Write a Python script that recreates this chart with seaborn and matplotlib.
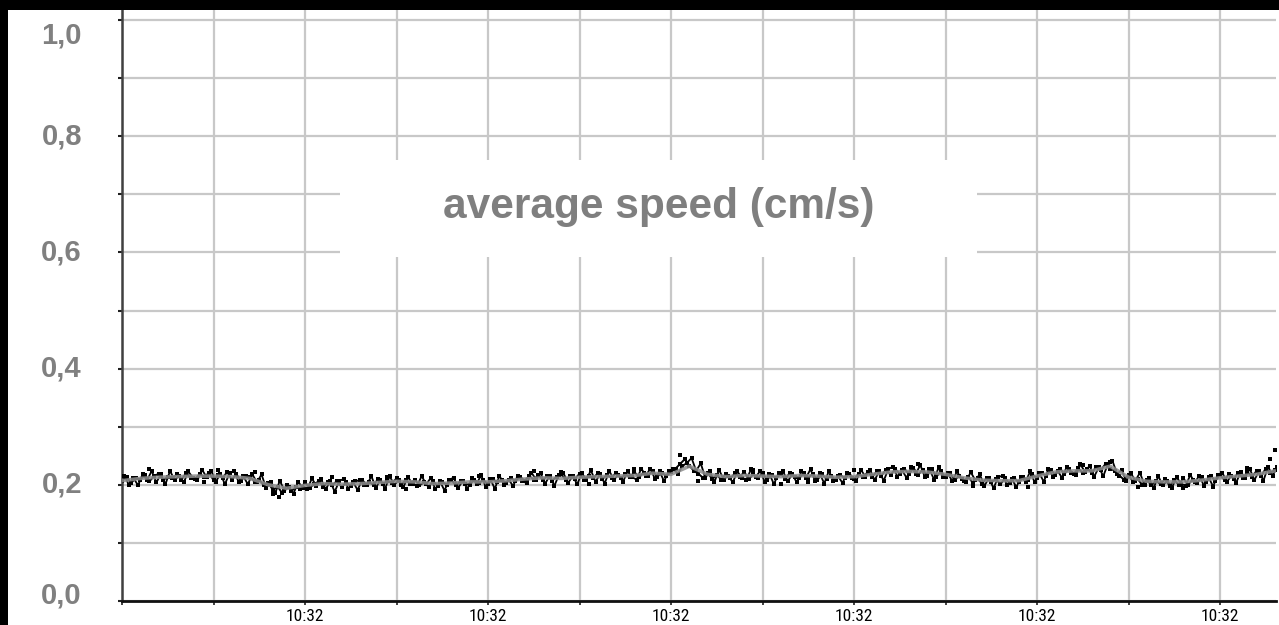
import numpy as np
import pandas as pd
import matplotlib
matplotlib.use("Agg")
import matplotlib.pyplot as plt
import matplotlib.transforms as mtransforms
from matplotlib import font_manager
from matplotlib.patches import Rectangle
import seaborn as sns

# ---------------- data ----------------
# smoothed speed (gray line), one value every 0.2 tick-units from 0 to 12.6
trend_values = [
    0.207, 0.211, 0.213, 0.214, 0.215, 0.215, 0.214, 0.211, 0.200, 0.194,
    0.199, 0.202, 0.201, 0.202, 0.204, 0.206, 0.205, 0.202, 0.203, 0.205,
    0.205, 0.207, 0.210, 0.212, 0.211, 0.213, 0.214, 0.215, 0.216, 0.220,
    0.218, 0.232, 0.218, 0.214, 0.216, 0.215, 0.214, 0.216, 0.215, 0.213,
    0.214, 0.218, 0.222, 0.223, 0.222, 0.218, 0.212, 0.208, 0.207, 0.207,
    0.215, 0.222, 0.224, 0.224, 0.232, 0.213, 0.206, 0.205, 0.205, 0.208,
    0.212, 0.215, 0.218, 0.224,
]

# raw speed samples A (black), one value every 0.05 tick-units from 0 to 12.6
raw_values_a = [
    0.207, 0.214, 0.203, 0.212, 0.209, 0.217, 0.206, 0.215, 0.219, 0.208, 0.214, 0.211,
    0.218, 0.209, 0.220, 0.212, 0.210, 0.219, 0.213, 0.221, 0.208, 0.217, 0.212, 0.222,
    0.209, 0.218, 0.207, 0.216, 0.214, 0.205, 0.209, 0.199, 0.203, 0.191, 0.197, 0.186,
    0.199, 0.189, 0.196, 0.193, 0.204, 0.195, 0.201, 0.206, 0.197, 0.205, 0.199, 0.207,
    0.196, 0.204, 0.198, 0.206, 0.208, 0.199, 0.205, 0.200, 0.210, 0.201, 0.207, 0.203,
    0.211, 0.200, 0.208, 0.202, 0.209, 0.199, 0.204, 0.197, 0.206, 0.198, 0.205, 0.200,
    0.208, 0.199, 0.206, 0.202, 0.200, 0.209, 0.203, 0.208, 0.201, 0.210, 0.204, 0.209,
    0.203, 0.212, 0.206, 0.214, 0.207, 0.215, 0.209, 0.217, 0.208, 0.216, 0.207, 0.214,
    0.218, 0.208, 0.215, 0.210, 0.219, 0.209, 0.216, 0.211, 0.220, 0.210, 0.217, 0.212,
    0.221, 0.211, 0.218, 0.213, 0.222, 0.213, 0.221, 0.216, 0.224, 0.214, 0.221, 0.215,
    0.222, 0.228, 0.236, 0.244, 0.233, 0.224, 0.219, 0.212, 0.221, 0.210, 0.217, 0.209,
    0.219, 0.211, 0.220, 0.213, 0.222, 0.210, 0.218, 0.212, 0.220, 0.209, 0.217, 0.211,
    0.219, 0.210, 0.221, 0.213, 0.211, 0.220, 0.212, 0.219, 0.209, 0.218, 0.210, 0.216,
    0.208, 0.217, 0.211, 0.219, 0.210, 0.219, 0.213, 0.222, 0.214, 0.223, 0.216, 0.226,
    0.217, 0.227, 0.219, 0.228, 0.218, 0.229, 0.217, 0.226, 0.216, 0.227, 0.214, 0.223,
    0.213, 0.220, 0.208, 0.216, 0.206, 0.214, 0.203, 0.211, 0.202, 0.212, 0.204, 0.210,
    0.201, 0.211, 0.203, 0.212, 0.204, 0.213, 0.208, 0.218, 0.211, 0.221, 0.215, 0.226,
    0.217, 0.228, 0.219, 0.227, 0.218, 0.229, 0.220, 0.228, 0.221, 0.231, 0.226, 0.236,
    0.228, 0.224, 0.216, 0.209, 0.217, 0.205, 0.210, 0.200, 0.209, 0.199, 0.207, 0.201,
    0.210, 0.198, 0.208, 0.200, 0.211, 0.200, 0.209, 0.203, 0.213, 0.204, 0.215, 0.207,
    0.217, 0.208, 0.219, 0.210, 0.221, 0.211, 0.222, 0.214, 0.224, 0.215, 0.228, 0.220,
    0.226,
]

# raw speed samples B (black), interleaved with A (half a step later)
raw_values_b = [
    0.216, 0.200, 0.212, 0.199, 0.218, 0.208, 0.224, 0.204, 0.218, 0.201, 0.224, 0.208,
    0.216, 0.204, 0.223, 0.212, 0.208, 0.226, 0.213, 0.224, 0.205, 0.219, 0.201, 0.220,
    0.223, 0.205, 0.215, 0.201, 0.218, 0.204, 0.218, 0.194, 0.205, 0.186, 0.207, 0.190,
    0.196, 0.185, 0.205, 0.195, 0.192, 0.211, 0.198, 0.210, 0.192, 0.206, 0.188, 0.207,
    0.210, 0.193, 0.205, 0.191, 0.209, 0.199, 0.215, 0.195, 0.209, 0.193, 0.215, 0.200,
    0.208, 0.196, 0.213, 0.202, 0.198, 0.215, 0.201, 0.212, 0.192, 0.206, 0.190, 0.209,
    0.212, 0.195, 0.207, 0.193, 0.212, 0.201, 0.217, 0.196, 0.210, 0.193, 0.216, 0.200,
    0.209, 0.198, 0.216, 0.206, 0.203, 0.221, 0.209, 0.220, 0.202, 0.216, 0.198, 0.217,
    0.220, 0.203, 0.215, 0.201, 0.220, 0.209, 0.225, 0.205, 0.219, 0.202, 0.224, 0.209,
    0.217, 0.205, 0.223, 0.213, 0.209, 0.228, 0.216, 0.228, 0.210, 0.223, 0.206, 0.224,
    0.227, 0.219, 0.232, 0.238, 0.246, 0.224, 0.237, 0.212, 0.223, 0.205, 0.226, 0.209,
    0.216, 0.204, 0.223, 0.212, 0.209, 0.227, 0.213, 0.224, 0.205, 0.219, 0.201, 0.220,
    0.223, 0.206, 0.218, 0.204, 0.223, 0.212, 0.227, 0.206, 0.220, 0.202, 0.224, 0.207,
    0.215, 0.203, 0.221, 0.211, 0.207, 0.226, 0.214, 0.226, 0.208, 0.223, 0.207, 0.227,
    0.231, 0.214, 0.225, 0.212, 0.230, 0.219, 0.234, 0.213, 0.227, 0.209, 0.230, 0.213,
    0.220, 0.206, 0.223, 0.210, 0.205, 0.222, 0.208, 0.218, 0.198, 0.212, 0.194, 0.213,
    0.216, 0.199, 0.210, 0.196, 0.214, 0.205, 0.223, 0.204, 0.220, 0.205, 0.228, 0.214,
    0.224, 0.212, 0.231, 0.220, 0.217, 0.235, 0.222, 0.233, 0.214, 0.230, 0.215, 0.236,
    0.241, 0.219, 0.225, 0.207, 0.220, 0.207, 0.221, 0.199, 0.211, 0.194, 0.215, 0.199,
    0.207, 0.195, 0.213, 0.202, 0.198, 0.217, 0.204, 0.216, 0.198, 0.213, 0.197, 0.217,
    0.221, 0.205, 0.216, 0.203, 0.222, 0.212, 0.228, 0.208, 0.223, 0.207, 0.231, 0.216,
    0.230,
]

# isolated outlying samples
outlier_pos = [0.3, 0.9, 1.05, 1.45, 1.65, 1.72, 2.3, 2.9, 3.1, 3.9, 4.5, 4.8, 5.1,
               5.6, 6.1, 6.3, 6.9, 7.2, 7.5, 8.0, 8.7, 9.3, 9.9, 10.5, 10.8, 11.1,
               11.6, 12.3, 12.55, 12.6]
outlier_values = [0.227, 0.205, 0.226, 0.222, 0.184, 0.179, 0.214, 0.213, 0.192,
                  0.216, 0.224, 0.222, 0.201, 0.228, 0.252, 0.206, 0.226, 0.202,
                  0.204, 0.225, 0.236, 0.198, 0.197, 0.234, 0.240, 0.196, 0.195,
                  0.229, 0.245, 0.260]

y_ticks = [0.0, 0.2, 0.4, 0.6, 0.8, 1.0]
y_tick_labels = ["0,0", "0,2", "0,4", "0,6", "0,8", "1,0"]
x_ticks = list(range(0, 13))
x_tick_labels = ["", "", "10:32", "", "10:32", "", "10:32", "", "10:32", "", "10:32", "", "10:32"]
title_text = "average speed (cm/s)"

# ---------------- figure ----------------
W, H = 1279, 625
sns.set_style("white")
plt.rcParams['font.family'] = ['Liberation Sans', 'DejaVu Sans']

# pick a narrow face for the time labels if one is installed
available = {f.name for f in font_manager.fontManager.ttflist}
narrow_family = "Liberation Sans"
narrow_size = 10.5
for cand in ["Liberation Sans Narrow", "Roboto Condensed", "DejaVu Sans Condensed",
             "Open Sans Condensed", "Noto Sans Condensed"]:
    if cand in available:
        narrow_family = cand
        narrow_size = 12.5
        break

fig = plt.figure(figsize=(W / 100, H / 100), dpi=100, facecolor="white")
fig.patches.append(Rectangle((0, 1 - 10 / H), 1, 10 / H, transform=fig.transFigure,
                             facecolor="black", edgecolor="none", zorder=0))
fig.patches.append(Rectangle((0, 0), 8 / W, 1, transform=fig.transFigure,
                             facecolor="black", edgecolor="none", zorder=0))

ax = fig.add_axes([122 / W, (H - 601) / H, (1276 - 122) / W, (601 - 10) / H])
ax.set_facecolor("white")

trend_x = np.arange(len(trend_values)) * 0.2
df_a = pd.DataFrame({"t": np.arange(len(raw_values_a)) * 0.05, "v": raw_values_a})
df_b = pd.DataFrame({"t": np.arange(len(raw_values_b)) * 0.05 + 0.025, "v": raw_values_b})
df_trend = pd.DataFrame({"t": trend_x, "v": trend_values})
df_out = pd.DataFrame({"t": outlier_pos, "v": outlier_values})

sns.lineplot(data=df_b, x="t", y="v", ax=ax, color="black", lw=1.3,
             marker="s", markersize=2.6, markeredgewidth=0, zorder=3)
sns.lineplot(data=df_a, x="t", y="v", ax=ax, color="black", lw=1.4,
             marker="s", markersize=2.8, markeredgewidth=0, zorder=3)
sns.lineplot(data=df_trend, x="t", y="v", ax=ax, color="#8e8e8e", lw=2.6,
             alpha=0.85, zorder=4)
sns.scatterplot(data=df_out, x="t", y="v", ax=ax, color="black", s=5,
                marker="s", linewidth=0, zorder=5)

ax.set_xlim(0, (1276 - 122) / 91.5)
ax.set_ylim(0, 1 + 10 / 581)

ax.set_yticks(np.round(np.arange(0, 1.01, 0.1), 1))
ax.set_xticks(x_ticks)
ax.set_xticklabels(x_tick_labels)
ax.grid(True, color="#c8c8c8", lw=1.6)
ax.set_axisbelow(True)
ax.set_xlabel("")
ax.set_ylabel("")

for s in ["top", "right"]:
    ax.spines[s].set_visible(False)
ax.spines["left"].set_color("#404040")
ax.spines["left"].set_linewidth(1.8)
ax.spines["bottom"].set_color("#101010")
ax.spines["bottom"].set_linewidth(2.0)

ax.tick_params(axis="y", length=3, width=1.5, color="#202020", direction="out",
               labelleft=False, left=True)
ax.tick_params(axis="x", length=3, width=1.2, color="#202020", direction="out",
               bottom=True, labelsize=narrow_size, pad=2.5, labelcolor="black")
for lbl in ax.get_xticklabels():
    lbl.set_fontfamily([narrow_family, "DejaVu Sans"])

# y tick labels as gray bold text
blend = mtransforms.blended_transform_factory(ax.transAxes, ax.transData)
for val, lab in zip(y_ticks, y_tick_labels):
    dy = 0
    if val == 1.0:
        dy = -15
    elif val == 0.0:
        dy = 5
    tr = blend + mtransforms.ScaledTranslation(0, dy / 100, fig.dpi_scale_trans)
    ax.text(-40 / 1154, val, lab, transform=tr, ha="right", va="center",
            fontsize=21, fontweight="bold", color="#808080")

# white title box over the grid
ax.add_patch(Rectangle(((340 - 122) / 91.5, (601 - 257) / 581),
                       (977 - 340) / 91.5, (257 - 160) / 581,
                       facecolor="white", edgecolor="none", zorder=1))
ax.text((659 - 122) / 91.5, (601 - 207) / 581, title_text, ha="center", va="center",
        fontsize=30.5, fontweight="bold", color="#7f7f7f", zorder=2)

fig.savefig("out.png", dpi=100, facecolor="white")
